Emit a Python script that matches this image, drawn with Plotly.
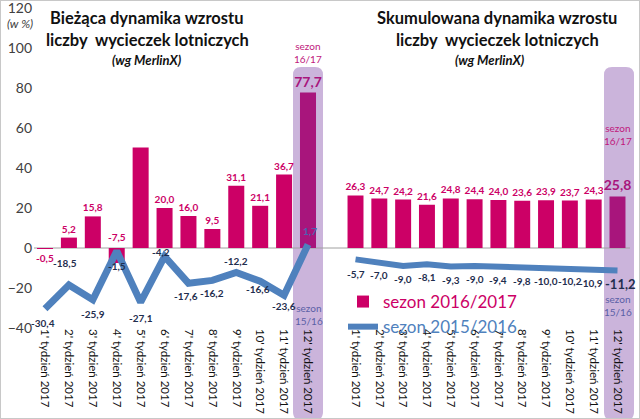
import plotly.graph_objects as go

# ---------------- data ----------------
weeks = ["1' tydzień 2017", "2' tydzień 2017", "3' tydzień 2017", "4' tydzień 2017",
         "5' tydzień 2017", "6' tydzień 2017", "7' tydzień 2017", "8' tydzień 2017",
         "9' tydzień 2017", "10' tydzień 2017", "11' tydzień 2017", "12' tydzień 2017"]

cur_1617 = [-0.5, 5.2, 15.8, -7.5, 50.2, 20.0, 16.0, 9.5, 31.1, 21.1, 36.7, 77.7]
cur_1516 = [-30.4, -18.5, -25.9, -1.5, -27.1, -4.2, -17.6, -16.2, -12.2, -16.6, -23.6, 1.7]
cum_1617 = [26.3, 24.7, 24.2, 21.6, 24.8, 24.4, 24.0, 23.6, 23.9, 23.7, 24.3, 25.8]
cum_1516 = [-5.7, -7.0, -9.0, -8.1, -9.3, -9.0, -9.4, -9.8, -10.0, -10.2, -10.9, -11.2]

y_ticks = [-40, -20, 0, 20, 40, 60, 80, 100, 120]

# ---------------- styles ----------------
W, H = 640, 419
FONT = "Lato"
MAG = "#CC0066"
MAG_DARK = "#A8157C"
BLUE = "#4F81BD"
NAVY = "#1F2E4E"
LAV = "#CBB4DB"
S1516 = "#5A5FA6"


def fmt(v):
    return f"{v:.1f}".replace(".", ",")


def px(x):
    return x / W


def py(y):
    return 1 - y / H


n = len(weeks)
last = n - 1

# bar labels (left): 5th label hidden behind, 4th label placed above axis separately
left_bar_text = []
for i, v in enumerate(cur_1617):
    if i in (3, 4):
        left_bar_text.append("")
    else:
        left_bar_text.append(f"<b>{fmt(v)}</b>")
right_bar_text = [f"<b>{fmt(v)}</b>" for v in cum_1617]

bar_colors = [MAG] * last + [MAG_DARK]
bar_label_colors = [MAG] * last + [MAG_DARK]
bar_label_sizes = [10] * last + [14]

# label placement offsets (pixels, + = above the point) for the line labels
left_line_shift = [-14, 22, -14, -15, -16, 4, -13, -13, 11, -8, -11, 14]
left_line_xshift = [-2, -4, 0, 0, 0, -4, -2, 0, 0, -2, 0, 2]
left_line_colors = [NAVY] * last + ["#4A63B0"]
right_line_shift = [-15] + [-13] * (last - 1) + [-14]
right_line_xshift = [0] * (last - 1) + [-3, 3]
right_line_sizes = [10] * last + [13]

fig = go.Figure()

fig.add_trace(go.Bar(
    x=weeks, y=cur_1617, xaxis="x", yaxis="y", width=0.67,
    marker=dict(color=bar_colors, line=dict(width=0)),
    text=left_bar_text, textposition="outside", constraintext="none", cliponaxis=False,
    textfont=dict(family=FONT, color=bar_label_colors, size=bar_label_sizes),
    showlegend=False, hoverinfo="skip"))

fig.add_trace(go.Bar(
    x=weeks, y=cum_1617, xaxis="x2", yaxis="y", width=0.67,
    marker=dict(color=bar_colors, line=dict(width=0)),
    text=right_bar_text, textposition="outside", constraintext="none", cliponaxis=False,
    textfont=dict(family=FONT, color=bar_label_colors, size=bar_label_sizes),
    name=f'<span style="color:{MAG}">sezon 2016/2017</span>', showlegend=True,
    hoverinfo="skip"))

fig.add_trace(go.Scatter(
    x=weeks, y=cur_1516, xaxis="x", yaxis="y", mode="lines",
    line=dict(color=BLUE, width=7),
    cliponaxis=False, showlegend=False, hoverinfo="skip"))

fig.add_trace(go.Scatter(
    x=weeks, y=cum_1516, xaxis="x2", yaxis="y", mode="lines",
    line=dict(color=BLUE, width=6),
    name=f'<span style="color:{BLUE}">sezon 2015/2016</span>', showlegend=True,
    cliponaxis=False, hoverinfo="skip"))


def rounded_box(x0, y0, x1, y1, r=8):
    rx, ry = r / W, r / H
    X0, X1 = px(x0), px(x1)
    Yt, Yb = py(y0), py(y1)
    return (f"M{X0 + rx},{Yt} L{X1 - rx},{Yt} Q{X1},{Yt} {X1},{Yt - ry} "
            f"L{X1},{Yb + ry} Q{X1},{Yb} {X1 - rx},{Yb} L{X0 + rx},{Yb} "
            f"Q{X0},{Yb} {X0},{Yb + ry} L{X0},{Yt - ry} Q{X0},{Yt} {X0 + rx},{Yt} Z")


shapes = [
    dict(type="path", path=rounded_box(293, 67, 323, 420), xref="paper", yref="paper",
         fillcolor=LAV, line=dict(width=0), layer="below"),
    dict(type="path", path=rounded_box(604, 67, 634, 420), xref="paper", yref="paper",
         fillcolor=LAV, line=dict(width=0), layer="below"),
    dict(type="line", xref="paper", yref="y", x0=px(34), x1=px(630), y0=0, y1=0,
         line=dict(color="#A0A0A0", width=1), layer="below"),
    dict(type="rect", xref="paper", yref="paper", x0=0, x1=1, y0=0, y1=1,
         line=dict(color="#C8C8C8", width=2)),
]

title_font = dict(family=FONT, size=16.5, color="#111111", weight="bold")
sub_font = dict(family=FONT, size=13, color="#111111", style="italic", weight="bold")


def note(text, x, y, font):
    return dict(text=text, x=px(x), y=py(y), xref="paper", yref="paper",
                xanchor="center", yanchor="middle", showarrow=False, font=font)


annotations = [
    note("(w %)", 20, 23, dict(family=FONT, size=12, color="#404040", style="italic")),
    note("Bieżąca dynamika wzrostu", 147, 18, title_font),
    note("liczby  wycieczek lotniczych", 147, 40, title_font),
    note("(wg MerlinX)", 147, 60, sub_font),
    note("Skumulowana dynamika wzrostu", 497, 18, title_font),
    note("liczby  wycieczek lotniczych", 497, 40, title_font),
    note("(wg MerlinX)", 490, 60, sub_font),
    note("sezon<br>16/17", 308, 52, dict(family=FONT, size=10, color="#C0187C")),
    note("sezon<br>16/17", 618, 134, dict(family=FONT, size=10, color="#C0187C")),
    note("sezon<br>15/16", 309, 314, dict(family=FONT, size=10, color=S1516)),
    note("sezon<br>15/16", 618, 305, dict(family=FONT, size=10, color=S1516)),
    dict(text=f"<b>{fmt(cur_1617[3])}</b>", x=weeks[3], y=0, xref="x", yref="y",
         yanchor="bottom", yshift=3, showarrow=False,
         font=dict(family=FONT, size=10, color=MAG)),
]

for wk, v, ys, xs, col in zip(weeks, cur_1516, left_line_shift, left_line_xshift,
                              left_line_colors):
    annotations.append(dict(text=f"<b>{fmt(v)}</b>", x=wk, y=v, xref="x", yref="y",
                            xanchor="center", yanchor="middle", yshift=ys, xshift=xs,
                            showarrow=False, font=dict(family=FONT, size=10, color=col)))

for wk, v, ys, xs, sz in zip(weeks, cum_1516, right_line_shift, right_line_xshift,
                             right_line_sizes):
    annotations.append(dict(text=f"<b>{fmt(v)}</b>", x=wk, y=v, xref="x2", yref="y",
                            xanchor="center", yanchor="middle", yshift=ys, xshift=xs,
                            showarrow=False, font=dict(family=FONT, size=sz, color=NAVY)))

axis_common = dict(type="category", tickangle=90, showline=False, showgrid=False,
                   zeroline=False, ticks="", range=[-0.5, 11.5], automargin=False,
                   tickfont=dict(family=FONT, size=11.5, color="#111111"), anchor="y")

fig.update_layout(
    width=W, height=H,
    margin=dict(l=0, r=0, t=0, b=0, autoexpand=False),
    paper_bgcolor="white", plot_bgcolor="rgba(0,0,0,0)",
    barmode="overlay",
    xaxis=dict(domain=[px(33.05), px(319.95)], **axis_common),
    xaxis2=dict(domain=[px(343.6), px(629.4)], **axis_common),
    yaxis=dict(domain=[py(328), py(8)], range=[-40, 120], tickvals=y_ticks,
               showgrid=False, zeroline=False, showline=False, ticks="", automargin=False,
               ticklabeloverflow="allow",
               tickfont=dict(family=FONT, size=14, color="#404040")),
    legend=dict(x=px(343), y=py(284), xanchor="left", yanchor="top",
                bgcolor="rgba(0,0,0,0)", font=dict(family=FONT, size=17),
                tracegroupgap=0, itemwidth=30),
    shapes=shapes, annotations=annotations,
    showlegend=True,
)

fig.write_html("out.html", config={"displayModeBar": False},
               post_script="document.body.style.margin='0';document.body.style.overflow='hidden';")
